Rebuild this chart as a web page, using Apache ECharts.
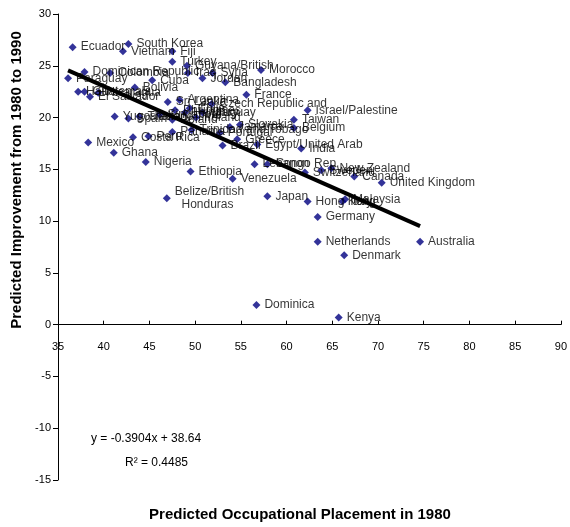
<!DOCTYPE html>
<html><head><meta charset="utf-8">
<script src="https://cdn.jsdelivr.net/npm/echarts@6/dist/echarts.min.js"></script>
<style>html,body{margin:0;padding:0;background:#fff}#c{width:570px;height:527px}</style>
</head><body><div id="c"></div>
<script>
const countries = ["Ecuador","Vietnam","South Korea","Fiji","Turkey","Guyana/British","Morocco","Syria","Bangladesh","France",
"Israel/Palestine","Taiwan","Belgium","India","Egypt/United Arab","Brazil","Lebanon","Congo Rep.","Ethiopia","Venezuela",
"Switzerland","Sweden","New Zealand","Canada","United Kingdom","Japan","Hong Kong","Italy","Malaysia","Germany",
"Netherlands","Australia","Denmark","Dominica","Kenya","Belize/British\n  Honduras","Mexico","Ghana","Nigeria","Costa Rica",
"Peru","Panama","Dominican Republic","Paraguay","Haiti","Guatemala","El Salvador","Nicaragua","Colombia","Bolivia",
"Cuba","Sri Lanka","Philippines","Yugoslavia","Spain","Thailand","Jordan","Iraq","Argentina","Chile",
"Uruguay","Czech Republic and","Slovakia","Trinidad and Tobago","Jamaica","Portugal","Greece","Poland","Ireland","Hungary","Singapore"];
const placement1980 = [36.6,42.1,42.7,47.5,47.5,49.1,57.2,51.9,53.3,55.6,
62.3,60.8,60.8,61.6,56.8,53.0,56.5,57.9,49.5,54.1,
62.0,63.8,64.9,67.4,70.4,57.9,62.3,66.1,66.4,63.4,
63.4,74.6,66.3,56.7,65.7,46.9,38.3,41.1,44.6,43.2,
44.9,47.5,37.9,36.1,37.2,37.9,38.5,39.4,40.7,43.4,
45.3,47.0,47.8,41.2,42.7,43.9,50.8,49.2,48.3,49.4,
50.8,51.8,54.9,49.6,53.8,52.7,54.6,47.5,50.1,48.9,46.1];
const improvement = [26.8,26.4,27.1,26.4,25.4,25.0,24.6,24.3,23.4,22.2,
20.7,19.8,19.0,17.0,17.4,17.3,15.5,15.5,14.8,14.1,
14.7,14.9,15.1,14.3,13.7,12.4,11.9,11.9,12.1,10.4,
8.0,8.0,6.7,1.9,0.7,12.2,17.6,16.6,15.7,18.1,
18.2,18.6,24.4,23.8,22.5,22.5,22.0,22.4,24.3,22.9,
23.6,21.5,20.7,20.1,19.9,20.1,23.8,24.3,21.7,20.9,
20.5,21.3,19.3,18.8,19.1,18.5,17.9,19.8,20.0,20.5,20.3];
const trendX = [36.1, 74.6];
const trendY = [24.55, 9.52];
const xTicks = {min:35, max:90, interval:5};
const yTicks = {min:-15, max:30, interval:5};
const equationText = "y = -0.3904x + 38.64";
const r2Text = "R\u00B2 = 0.4485";

const font = "'Liberation Sans', Arial, sans-serif";
const gridTop = 14, gridBottom = 47, H = 527;
const plotH = H - gridTop - gridBottom;
const zeroOffset = -plotH * (0 - yTicks.min) / (yTicks.max - yTicks.min);
const pts = countries.map((n,i)=>({name:n, value:[placement1980[i], improvement[i]]}));
const chart = echarts.init(document.getElementById('c'), null, {renderer:'canvas'});
chart.setOption({
  animation:false,
  backgroundColor:'#fff',
  grid:{left:58,right:8,top:gridTop,bottom:gridBottom},
  xAxis:{type:'value',min:xTicks.min,max:xTicks.max,interval:xTicks.interval,offset:zeroOffset,
    axisLine:{onZero:false,lineStyle:{color:'#000',width:1}},
    axisTick:{inside:true,length:4,lineStyle:{color:'#000'}},
    axisLabel:{color:'#000',fontFamily:font,fontSize:11,margin:17},
    splitLine:{show:false}},
  yAxis:{type:'value',min:yTicks.min,max:yTicks.max,interval:yTicks.interval,
    axisLine:{show:true,onZero:false,lineStyle:{color:'#000',width:1}},
    axisTick:{show:true,length:5,lineStyle:{color:'#000'}},
    axisLabel:{color:'#000',fontFamily:font,fontSize:11,margin:7},
    splitLine:{show:false}},
  series:[
    {type:'scatter',symbol:'diamond',symbolSize:8,itemStyle:{color:'#000080'},data:pts,z:3,
     label:{show:true,position:'right',distance:4,formatter:'{b}',color:'#000',fontFamily:font,fontSize:12,lineHeight:13}},
    {type:'line',data:trendX.map((x,i)=>[x,trendY[i]]),symbol:'none',lineStyle:{color:'#000',width:4},z:4,silent:true}
  ],
  graphic:[
    {type:'text',left:91,top:433,style:{text:equationText,font:'12px '+font,fill:'#000'}},
    {type:'text',left:125,top:457,style:{text:r2Text,font:'12px '+font,fill:'#000'}},
    {type:'text',x:300,y:515,style:{text:'Predicted Occupational Placement in 1980',font:'bold 15px '+font,fill:'#000',align:'center',verticalAlign:'middle'}},
    {type:'text',x:17,y:180,rotation:Math.PI/2,style:{text:'Predicted Improvement from 1980 to 1990',font:'bold 15px '+font,fill:'#000',align:'center',verticalAlign:'middle'}}
  ]
});
</script></body></html>
